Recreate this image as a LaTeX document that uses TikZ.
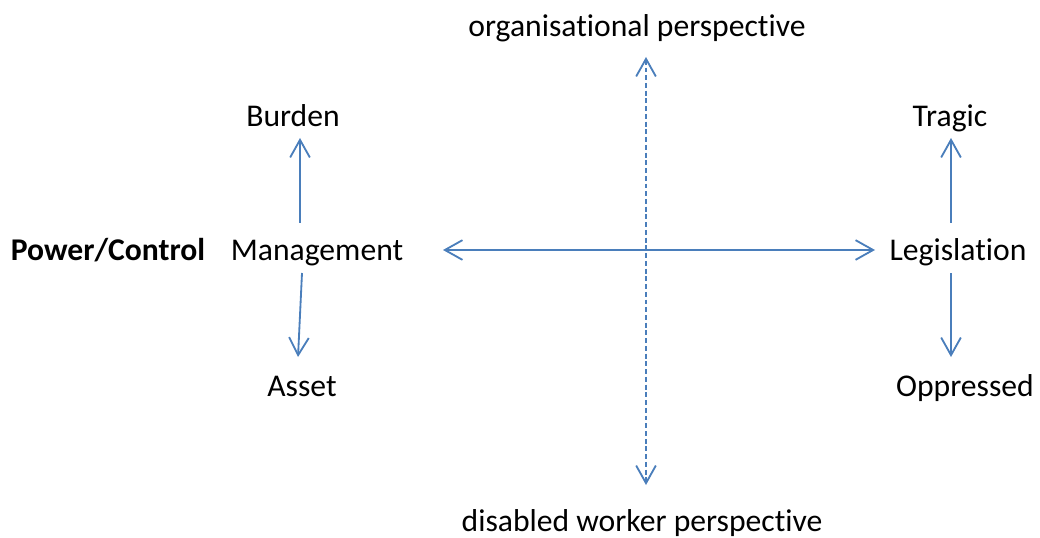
\documentclass[tikz,border=0pt]{standalone}
\usepackage{fontspec}
\setmainfont[Ligatures={NoCommon,NoContextual}]{Carlito}
\usetikzlibrary{arrows.meta}

\begin{document}
\begin{tikzpicture}[x=0.025cm, y=-0.025cm,
  lbl/.style={anchor=base, inner sep=0pt, font=\fontsize{22.5}{27}\selectfont},
  link/.style={draw={rgb,255:red,74;green,126;blue,187}, line width=1.3pt,
    arrows={-Straight Barb[length=12.5pt, width=14pt, line width=1.3pt]}},
  both/.style={link, arrows={Straight Barb[length=12.5pt, width=14pt, line width=1.3pt]-Straight Barb[length=12.5pt, width=14pt, line width=1.3pt]}}]

\useasboundingbox (0, 0) rectangle (1040, 538);

\node (1) [lbl] at (637, 37) {organisational perspective};
\node (2) [lbl] at (293, 127) {Burden};
\node (3) [lbl] at (950, 127) {Tragic};
\node (4) [lbl, font=\fontsize{22.5}{27}\selectfont\bfseries] at (108, 261) {Power/Control};
\node (5) [lbl] at (317, 261) {Management};
\node (6) [lbl] at (958, 261) {Legislation};
\node (7) [lbl] at (302, 396) {Asset};
\node (8) [lbl] at (965, 396) {Oppressed};
\node (9) [lbl] at (642, 531) {disabled worker perspective};

\coordinate (h1) at (443, 250);
\coordinate (h2) at (875, 250);
\coordinate (v1) at (646, 57);
\coordinate (v2) at (646, 485);
\coordinate (b1) at (300, 223);
\coordinate (b2) at (300, 138);
\coordinate (a1) at (302, 273);
\coordinate (a2) at (298, 357);
\coordinate (t1) at (951, 223);
\coordinate (t2) at (951, 138);
\coordinate (o1) at (951, 273);
\coordinate (o2) at (951, 357);

\draw [both] (h1) -- (h2);
\draw [both, dash pattern=on 3.5pt off 2pt] (v1) -- (v2);
\draw [link] (b1) -- (b2);
\draw [link] (a1) -- (a2);
\draw [link] (t1) -- (t2);
\draw [link] (o1) -- (o2);

\end{tikzpicture}
\end{document}
